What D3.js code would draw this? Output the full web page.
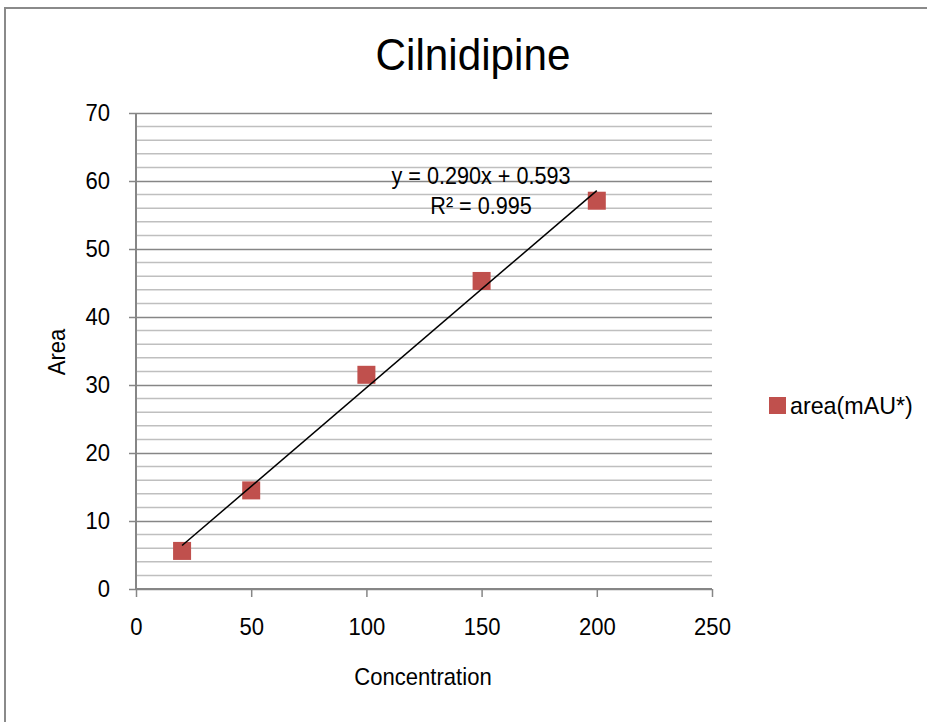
<!DOCTYPE html>
<html>
<head>
<meta charset="utf-8">
<script src="https://cdn.jsdelivr.net/npm/d3@7/dist/d3.min.js"></script>
<style>
  html, body { margin: 0; padding: 0; background: #fff; }
  svg { display: block; font-family: "Liberation Sans", Arial, sans-serif; }
</style>
</head>
<body>
<svg id="chart" width="927" height="722"></svg>
<script>
// Calibration data: concentration vs. peak area
const concentration = [20, 50, 100, 150, 200];
const area = [5.6, 14.5, 31.5, 45.3, 57.1];

// Linear trendline coefficients
const slope = 0.290;
const intercept = 0.593;
const rSquared = 0.995;

const xTicks = [0, 50, 100, 150, 200, 250];
const yTicks = [0, 10, 20, 30, 40, 50, 60, 70];
const yMinorTicks = d3.range(0, 71, 2);

const seriesName = "area(mAU*)";
const chartTitle = "Cilnidipine";
const xTitle = "Concentration";
const yTitle = "Area";

const svg = d3.select("#chart");
const markerColor = "#C0504D";
const axisColor = "#868686";
const minorColor = "#BFBFBF";
const squeeze = 0.92;   // slightly condensed lettering
const fs = 24;

// Place a condensed text label centred/anchored at (px, py)
function label(px, py, str, opts = {}) {
  const g = svg.append("g")
    .attr("transform", `translate(${px},${py})` + (opts.rotate ? ` rotate(${opts.rotate})` : ""));
  return g.append("text")
    .attr("transform", `scale(${opts.sx ?? squeeze},1)`)
    .attr("text-anchor", opts.anchor ?? "middle")
    .attr("font-size", opts.size ?? fs)
    .attr("fill", "#000")
    .text(str);
}

// Outer chart frame
svg.append("rect")
  .attr("x", 5).attr("y", 8)
  .attr("width", 940).attr("height", 740)
  .attr("fill", "none")
  .attr("stroke", "#8a8a8a")
  .attr("stroke-width", 2);

const x = d3.scaleLinear().domain([0, 250]).range([136, 712]);
const y = d3.scaleLinear().domain([0, 70]).range([589, 113]);

// Minor horizontal gridlines
svg.append("g")
  .selectAll("line")
  .data(yMinorTicks.filter(v => v % 10 !== 0))
  .join("line")
  .attr("x1", x(0)).attr("x2", x(250))
  .attr("y1", d => y(d)).attr("y2", d => y(d))
  .attr("stroke", minorColor)
  .attr("stroke-width", 1.5);

// Major gridlines with Y axis ticks
const yPad = 26;
const yAxis = d3.axisLeft(y)
  .tickValues(yTicks)
  .tickSize(-(x(250) - x(0)))
  .tickPadding(yPad)
  .tickFormat(d3.format("d"));

const gy = svg.append("g")
  .attr("transform", `translate(${x(0)},0)`)
  .call(yAxis);
gy.select(".domain").remove();
gy.selectAll(".tick line")
  .attr("x1", -7)
  .attr("stroke", axisColor)
  .attr("stroke-width", 1.5);
gy.selectAll(".tick text")
  .attr("font-size", fs)
  .attr("fill", "#000")
  .attr("x", -yPad / squeeze)
  .attr("transform", `scale(${squeeze},1)`)
  .attr("font-family", "Liberation Sans, Arial, sans-serif");

// Vertical axis line
svg.append("line")
  .attr("x1", x(0)).attr("x2", x(0))
  .attr("y1", y(70)).attr("y2", y(0))
  .attr("stroke", axisColor)
  .attr("stroke-width", 2);

// X axis
const xAxis = d3.axisBottom(x)
  .tickValues(xTicks)
  .tickSize(8)
  .tickPadding(21)
  .tickFormat(d3.format("d"));
const gx = svg.append("g")
  .attr("transform", `translate(0,${y(0)})`)
  .call(xAxis);
gx.select(".domain")
  .attr("d", `M${x(0)},0H${x(250)}`)
  .attr("stroke", axisColor)
  .attr("stroke-width", 2);
gx.selectAll(".tick line")
  .attr("stroke", axisColor)
  .attr("stroke-width", 1.5);
gx.selectAll(".tick text")
  .attr("font-size", fs)
  .attr("fill", "#000")
  .attr("transform", `scale(${squeeze},1)`)
  .attr("font-family", "Liberation Sans, Arial, sans-serif");

// Data markers
const pts = concentration.map((c, i) => ({ c, a: area[i] }));
const m = 18;
svg.append("g")
  .selectAll("rect")
  .data(pts)
  .join("rect")
  .attr("x", d => x(d.c) - m / 2)
  .attr("y", d => y(d.a) - m / 2)
  .attr("width", m).attr("height", m)
  .attr("fill", markerColor);

// Linear trendline across the data range
const xMin = d3.min(concentration), xMax = d3.max(concentration);
svg.append("line")
  .attr("x1", x(xMin)).attr("y1", y(slope * xMin + intercept))
  .attr("x2", x(xMax)).attr("y2", y(slope * xMax + intercept))
  .attr("stroke", "#000")
  .attr("stroke-width", 1.5);

// Trendline equation
label(481, 184, `y = ${slope.toFixed(3)}x + ${intercept.toFixed(3)}`, { sx: 0.9 });
label(481, 214, `R² = ${rSquared.toFixed(3)}`, { sx: 0.9 });

// Title
label(473, 70, chartTitle, { size: 44, sx: 0.96 });

// Axis titles
label(65, 352, yTitle, { rotate: -90 });
label(423, 685, xTitle);

// Legend
svg.append("rect")
  .attr("x", 769).attr("y", 397)
  .attr("width", 17).attr("height", 17)
  .attr("fill", markerColor);
label(790, 414, seriesName, { anchor: "start", sx: 0.97 });
</script>
</body>
</html>
